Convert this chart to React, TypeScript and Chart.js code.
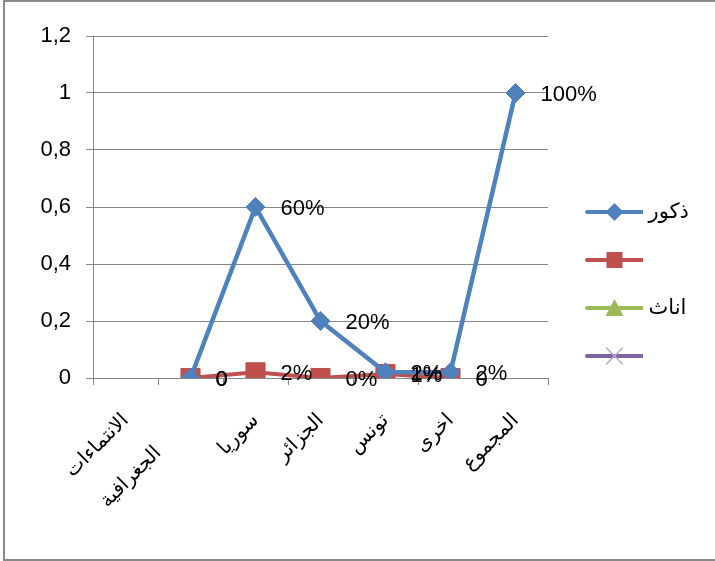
import React, { useEffect, useRef } from "react";
import { Chart, registerables } from "chart.js";

Chart.register(...registerables);

const FONT = "'Liberation Sans', 'DejaVu Sans', sans-serif";

const categories: (string | string[])[] = [["الانتماءات", "الجغرافية"], "", "سوريا", "الجزائر", "تونس", "اخرى", "المجموع"];
const seriesNames = ["ذكور", "", "اناث", ""];
const seriesColors = ["#4F81BD", "#C0504D", "#9BBB59", "#8064A2"];
const maleValues = [null, 0, 0.6, 0.2, 0.02, 0.02, 1];
const maleLabels = ["", "0", "60%", "20%", "2%", "2%", "100%"];
const series2Values = [null, 0, 0.02, 0, 0.014, 0, null];
const series2Labels = ["", "0", "2%", "0%", "1%", "0", ""];
const femaleValues = [null, null, null, null, null, null, null];
const series4Values = [null, null, null, null, null, null, null];
const yTickValues = [0, 0.2, 0.4, 0.6, 0.8, 1, 1.2];
const yTickLabels = ["0", "0,2", "0,4", "0,6", "0,8", "1", "1,2"];

const pointLabels = [maleLabels, series2Labels, [], []];

function makeIcon(color: string, kind: string): HTMLCanvasElement {
  const c = document.createElement("canvas");
  c.width = 62;
  c.height = 22;
  const ctx = c.getContext("2d")!;
  const cx = 33.5;
  ctx.strokeStyle = color;
  ctx.lineWidth = 4;
  ctx.lineCap = "round";
  ctx.beginPath();
  ctx.moveTo(6, 11);
  ctx.lineTo(61, 11);
  ctx.stroke();
  ctx.fillStyle = color;
  ctx.beginPath();
  if (kind === "diamond") {
    ctx.moveTo(cx, 2);
    ctx.lineTo(cx + 9, 11);
    ctx.lineTo(cx, 20);
    ctx.lineTo(cx - 9, 11);
    ctx.closePath();
    ctx.fill();
  } else if (kind === "square") {
    ctx.fillRect(cx - 8, 3, 16, 16);
  } else if (kind === "triangle") {
    ctx.moveTo(cx, 2);
    ctx.lineTo(cx + 9, 19);
    ctx.lineTo(cx - 9, 19);
    ctx.closePath();
    ctx.fill();
  } else {
    ctx.strokeStyle = "#b9a6d3";
    ctx.lineWidth = 1.5;
    ctx.moveTo(cx - 8, 3);
    ctx.lineTo(cx + 8, 19);
    ctx.moveTo(cx + 8, 3);
    ctx.lineTo(cx - 8, 19);
    ctx.stroke();
  }
  return c;
}

const dataLabelPlugin = {
  id: "valueLabels",
  afterDatasetsDraw(chart: any) {
    const ctx = chart.ctx;
    ctx.save();
    ctx.font = `22px ${FONT}`;
    ctx.fillStyle = "#000";
    ctx.textAlign = "left";
    ctx.textBaseline = "middle";
    pointLabels.forEach((labels, di) => {
      const meta = chart.getDatasetMeta(di);
      meta.data.forEach((pt: any, i: number) => {
        const t = labels[i];
        if (!t) return;
        ctx.fillText(t, pt.x + 25, pt.y + 2);
      });
    });
    ctx.restore();
  },
};

const legendWidthPlugin = {
  id: "legendWidth",
  afterInit(chart: any) {
    const legend = chart.legend;
    if (!legend) return;
    const orig = legend.fit.bind(legend);
    legend.fit = function () {
      orig();
      this.width = 156;
    };
  },
};

export default function App() {
  const ref = useRef<HTMLCanvasElement>(null);
  useEffect(() => {
    const icons = [
      makeIcon(seriesColors[0], "diamond"),
      makeIcon(seriesColors[1], "square"),
      makeIcon(seriesColors[2], "triangle"),
      makeIcon(seriesColors[3], "x"),
    ];
    const mk = (i: number, data: (number | null)[], style: any, radius: number, width: number) => ({
      label: seriesNames[i],
      data,
      borderColor: seriesColors[i],
      backgroundColor: seriesColors[i],
      pointBackgroundColor: seriesColors[i],
      pointBorderColor: seriesColors[i],
      pointBorderWidth: 1,
      borderWidth: width,
      pointStyle: style,
      pointRadius: radius,
      tension: 0,
    });
    const chart = new Chart(ref.current!, {
      type: "line",
      data: {
        labels: categories,
        datasets: [
          mk(0, maleValues, "rectRot", 9.5, 4.5),
          mk(1, series2Values, "rect", 13.5, 4),
          mk(2, femaleValues, "triangle", 9, 4),
          mk(3, series4Values, "crossRot", 9, 4),
        ],
      },
      options: {
        responsive: false,
        animation: false,
        layout: { padding: { top: 7, left: 0, right: 0, bottom: 0 } },
        plugins: {
          tooltip: { enabled: false },
          title: {
            display: true,
            text: " ",
            font: { size: 1, lineHeight: 1 },
            padding: { top: 14, bottom: 14 },
          },
          legend: {
            position: "right",
            labels: {
              usePointStyle: true,
              pointStyleWidth: 52,
              font: { size: 21, family: FONT },
              color: "#000",
              padding: 27,
              generateLabels: (ch: any) =>
                ch.data.datasets.map((ds: any, i: number) => ({
                  text: ds.label,
                  pointStyle: icons[i],
                  datasetIndex: i,
                  hidden: false,
                  lineWidth: 0,
                  strokeStyle: "transparent",
                  fillStyle: "transparent",
                  fontColor: "#000",
                })),
            },
          },
        },
        scales: {
          x: {
            type: "category",
            offset: true,
            grid: { offset: true, drawOnChartArea: false, tickLength: 7, color: "#868686" },
            border: { color: "#868686", width: 1 },
            ticks: {
              minRotation: 45,
              maxRotation: 45,
              autoSkip: false,
              font: { size: 20, family: FONT, lineHeight: 2.3 },
              color: "#000",
              padding: 16,
            },
            afterFit: (s: any) => {
              s.height = 183;
            },
          },
          y: {
            min: 0,
            max: 1.2,
            afterBuildTicks: (s: any) => {
              s.ticks = yTickValues.map((v) => ({ value: v }));
            },
            ticks: {
              callback: (_v: any, i: number) => yTickLabels[i],
              font: { size: 22, family: FONT },
              color: "#000",
              padding: 15,
            },
            grid: { color: "#868686", tickLength: 7 },
            border: { color: "#868686", width: 1 },
            afterFit: (s: any) => {
              s.width = 93;
            },
          },
          y2: {
            position: "right",
            display: true,
            grid: { display: false },
            border: { display: false },
            ticks: { display: false },
            afterFit: (s: any) => {
              s.width = 11;
            },
          },
        },
      } as any,
      plugins: [dataLabelPlugin, legendWidthPlugin],
    });
    return () => chart.destroy();
  }, []);
  return (
    <div>
      <div
        style={{
          position: "fixed",
          left: 3,
          top: 0,
          width: 730,
          height: 561,
          boxSizing: "border-box",
          border: "2px solid #8a8a8a",
        }}
      />
      <canvas
        ref={ref}
        width={715}
        height={561}
        style={{ position: "fixed", left: 0, top: 0, width: 715, height: 561 }}
      />
    </div>
  );
}
